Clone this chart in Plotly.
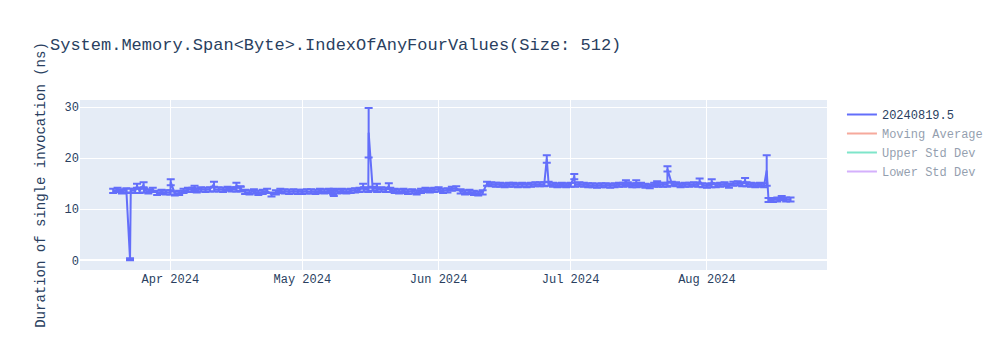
import pandas as pd
import plotly.graph_objects as go

start_date = "2024-03-19"
end_date = "2024-08-20"
daily_dates = pd.date_range(start_date, end_date, freq="D")

# Daily baseline runs (midnight), Mar 19 - Mar 31
mar_vals = [13.6, 13.8, 13.5, 13.7, 13.6, 13.6, 13.6, 13.7, 13.5, 13.8, 13.2, 13.4, 13.3]
# April
apr_vals = [13.3, 13.1, 13.2, 13.6, 13.8, 13.8, 13.7, 13.9, 13.8, 13.9,
            13.9, 13.9, 13.8, 14.0, 13.9, 13.9, 14.0, 13.4, 13.3, 13.5,
            13.2, 13.4, 13.6, 12.9, 13.3, 13.6, 13.5, 13.4, 13.5, 13.4]
# May
may_vals = [13.4, 13.5, 13.5, 13.4, 13.6, 13.5, 13.6, 13.3, 13.5, 13.6,
            13.5, 13.6, 13.7, 13.8, 13.9, 13.8, 14.0, 13.8, 13.9, 13.8,
            13.8, 13.6, 13.5, 13.6, 13.4, 13.5, 13.3, 13.6, 13.8, 13.7, 13.8]
# June
jun_vals = [13.9, 13.6, 13.7, 14.0, 14.1, 13.5, 13.3, 13.4, 13.2, 13.1,
            13.3, 15.0, 14.9, 14.8, 14.8, 14.7, 14.8, 14.8, 14.7, 14.8,
            14.7, 14.8, 14.9, 14.9, 14.9, 15.0, 14.8, 14.7, 14.8, 14.7]
# July
jul_vals = [14.8, 14.8, 14.9, 14.8, 14.7, 14.7, 14.6, 14.7, 14.7, 14.6,
            14.7, 14.8, 14.8, 14.9, 14.7, 14.7, 14.8, 14.6, 14.5, 14.8,
            14.8, 14.8, 14.8, 15.0, 14.9, 14.7, 14.8, 14.8, 14.9, 14.8, 14.7]
# Aug 1 - Aug 20
aug_vals = [14.6, 14.7, 14.7, 14.8, 14.9, 14.6, 15.0, 15.1, 14.9, 14.9,
            14.8, 14.7, 14.8, 14.7, 11.8, 11.8, 11.9, 12.2, 11.9, 11.9]
daily_vals = mar_vals + apr_vals + may_vals + jun_vals + jul_vals + aug_vals
daily_errs = [0.4] * len(daily_vals)

# Extra runs between the daily ones (outliers / spikes)
spike_times = ["2024-03-22 20:00", "2024-03-24 10:00", "2024-03-25 22:00",
               "2024-04-01 02:00", "2024-04-06 12:00", "2024-04-10 22:00",
               "2024-04-16 00:30", "2024-04-16 22:00", "2024-05-08 04:00",
               "2024-05-14 20:00", "2024-05-16 02:00", "2024-05-17 23:00",
               "2024-05-20 16:00", "2024-06-25 14:00", "2024-07-01 20:00",
               "2024-07-13 14:00", "2024-07-15 22:00", "2024-07-20 16:00",
               "2024-07-23 00:30", "2024-07-30 08:00", "2024-08-02 02:00",
               "2024-08-09 16:00", "2024-08-14 14:00"]
spike_vals = [0.2, 14.6, 14.8, 15.3, 14.1, 14.9, 14.7, 14.0, 13.3,
              14.5, 25.0, 14.5, 14.5, 19.85, 16.4, 15.2, 15.2, 15.1,
              17.9, 15.5, 15.4, 15.6, 17.6]
spike_errs = [0.2, 0.4, 0.5, 0.6, 0.5, 0.5, 0.5, 0.5, 0.7,
              0.5, 4.85, 0.5, 0.6, 0.75, 0.5, 0.5, 0.5, 0.4,
              0.5, 0.5, 0.5, 0.5, 3.0]

df = pd.concat([
    pd.DataFrame({"t": daily_dates, "v": daily_vals, "e": daily_errs}),
    pd.DataFrame({"t": pd.to_datetime(spike_times), "v": spike_vals, "e": spike_errs}),
]).sort_values("t").reset_index(drop=True)

moving_avg = df["v"].rolling(5, min_periods=1).mean()
moving_std = df["v"].rolling(5, min_periods=1).std().fillna(0)
upper = moving_avg + 2 * moving_std
lower = moving_avg - 2 * moving_std

font_family = "Liberation Mono, Courier New, monospace"

fig = go.Figure()
fig.add_trace(go.Scatter(
    x=df["t"], y=df["v"], mode="lines", name="20240819.5",
    line=dict(color="#636efa", width=2),
    error_y=dict(type="data", array=df["e"], visible=True, color="#636efa",
                 thickness=2, width=4),
))
fig.add_trace(go.Scatter(x=df["t"], y=moving_avg, mode="lines", name="Moving Average",
                         line=dict(color="#EF553B"), visible="legendonly"))
fig.add_trace(go.Scatter(x=df["t"], y=upper, mode="lines", name="Upper Std Dev",
                         line=dict(color="#00cc96"), visible="legendonly"))
fig.add_trace(go.Scatter(x=df["t"], y=lower, mode="lines", name="Lower Std Dev",
                         line=dict(color="#ab63fa"), visible="legendonly"))

fig.update_layout(
    width=1000, height=350,
    template="plotly",
    font=dict(family=font_family),
    title=dict(text="System.Memory.Span<Byte>.IndexOfAnyFourValues(Size: 512)",
               font=dict(family=font_family, size=17)),
    yaxis=dict(title=dict(text="Duration of single invocation (ns)"),
               range=[-1.9, 31.4], tickvals=[0, 10, 20, 30]),
    xaxis=dict(range=["2024-03-11 11:00", "2024-08-28 07:00"]),
    margin=dict(l=80, t=100, b=80),
)

fig.write_html("out.html")
